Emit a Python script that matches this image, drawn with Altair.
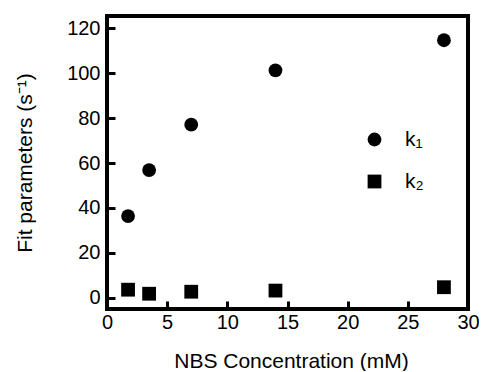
import altair as alt
import pandas as pd

nbs = [1.75, 3.5, 7, 14, 28]
k1 = [36.4, 56.9, 77.1, 101.3, 114.7]
k2 = [3.6, 1.8, 2.7, 3.2, 4.7]
series = ["k\u2081", "k\u2082"]

rows = []
for name, vals in zip(series, [k1, k2]):
    for x, y in zip(nbs, vals):
        rows.append({"NBS": x, "value": y, "param": name})
df = pd.DataFrame(rows)

FONT = "Liberation Sans"

chart = alt.Chart(df).mark_point(filled=True, opacity=1, color="black", size=190).encode(
    x=alt.X("NBS:Q", scale=alt.Scale(domain=[0, 30], nice=False, zero=False),
            axis=alt.Axis(title="NBS Concentration (mM)", values=[0, 5, 10, 15, 20, 25, 30],
                          grid=False, domain=False, tickSize=8, offset=-8, tickWidth=3,
                          tickColor="black", labelPadding=3, labelFontSize=20,
                          labelColor="black", labelFont=FONT, titleFont=FONT,
                          titleFontSize=21, titleFontWeight="normal", titleColor="black",
                          titlePadding=18, titleX=184, labelFlush=False)),
    y=alt.Y("value:Q", scale=alt.Scale(domain=[-5, 125.5], nice=False, zero=False),
            axis=alt.Axis(title="Fit parameters (s\u207b\u00b9)", values=[0, 20, 40, 60, 80, 100, 120],
                          grid=False, domain=False, tickSize=8, offset=-8, tickWidth=3,
                          tickColor="black", labelPadding=7, labelFontSize=20,
                          labelColor="black", labelFont=FONT, titleFont=FONT,
                          titleFontSize=21, titleFontWeight="normal", titleColor="black",
                          titlePadding=31)),
    shape=alt.Shape("param:N", scale=alt.Scale(domain=series, range=["circle", "square"]),
                    legend=alt.Legend(title=None, orient="none", legendX=257, legendY=113,
                                      labelFontSize=21, labelFont=FONT, labelColor="black",
                                      labelOffset=20, rowPadding=20, padding=0,
                                      symbolSize=190, symbolType="circle",
                                      symbolFillColor="black", symbolStrokeWidth=0,
                                      symbolOpacity=1)),
).properties(
    width=361, height=293,
    autosize=alt.AutoSizeParams(type="none"),
    padding={"left": 99, "top": 8, "right": 11, "bottom": 62},
).configure(background="white").configure_view(
    stroke="black", strokeWidth=4
)

chart.save("out.html", embed_options={"renderer": "svg", "actions": False})
